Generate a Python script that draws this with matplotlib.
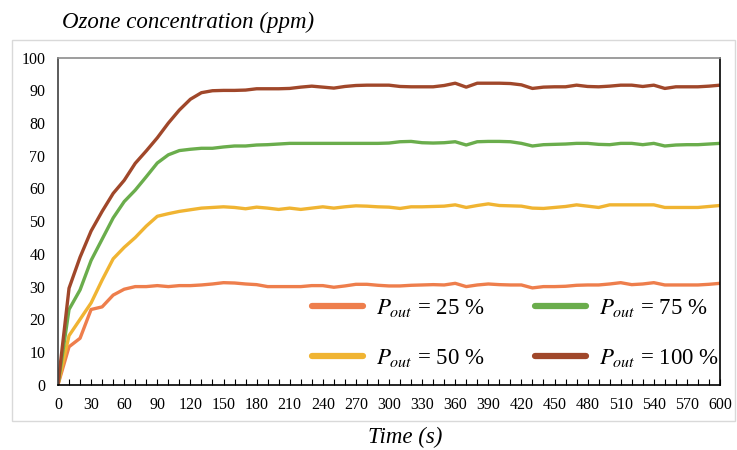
import matplotlib
matplotlib.use('Agg')
import matplotlib.pyplot as plt
from matplotlib.patches import Rectangle
from matplotlib.ticker import MultipleLocator

plt.rcParams['font.family'] = ['Liberation Serif', 'DejaVu Serif']
plt.rcParams['mathtext.fontset'] = 'stix'

time_s = list(range(0, 610, 10))

# ozone concentration (ppm) for each output power
p25 = [0, 11.6, 14.2, 23.0, 23.8, 27.4, 29.2, 30.0, 30.0, 30.3, 30.0, 30.3, 30.3, 30.5, 30.8,
       31.2, 31.1, 30.8, 30.6, 30.0, 30.0, 30.0, 30.0, 30.3, 30.3, 29.8, 30.2, 30.7, 30.7, 30.4,
       30.2, 30.2, 30.4, 30.5, 30.6, 30.5, 31.0, 30.0, 30.5, 30.8, 30.6, 30.5, 30.5, 29.6, 30.0,
       30.0, 30.1, 30.4, 30.5, 30.5, 30.8, 31.2, 30.6, 30.8, 31.2, 30.5, 30.5, 30.5, 30.5, 30.7,
       31.0]
p50 = [0, 15.0, 20.0, 25.0, 32.0, 38.5, 42.0, 45.0, 48.5, 51.5, 52.3, 53.0, 53.5, 54.0, 54.2,
       54.4, 54.2, 53.8, 54.3, 54.0, 53.6, 54.0, 53.6, 54.0, 54.4, 54.0, 54.4, 54.7, 54.6, 54.4,
       54.3, 53.9, 54.4, 54.4, 54.5, 54.6, 55.0, 54.2, 54.8, 55.3, 54.8, 54.7, 54.6, 54.0, 53.9,
       54.2, 54.5, 55.0, 54.6, 54.2, 55.0, 55.0, 55.0, 55.0, 55.0, 54.2, 54.2, 54.2, 54.2, 54.5,
       54.8]
p75 = [0, 23.0, 29.0, 38.0, 44.5, 51.0, 56.0, 59.5, 63.6, 67.8, 70.3, 71.6, 72.0, 72.3, 72.3,
       72.7, 73.0, 73.0, 73.3, 73.4, 73.6, 73.8, 73.8, 73.8, 73.8, 73.8, 73.8, 73.8, 73.8, 73.8,
       73.9, 74.3, 74.4, 74.0, 73.9, 74.0, 74.3, 73.3, 74.3, 74.4, 74.4, 74.3, 73.8, 73.0, 73.4,
       73.5, 73.6, 73.8, 73.8, 73.5, 73.4, 73.8, 73.8, 73.4, 73.8, 73.0, 73.3, 73.4, 73.4, 73.6,
       73.8]
p100 = [0, 29.5, 39.0, 47.0, 53.0, 58.5, 62.5, 67.7, 71.5, 75.5, 80.0, 84.0, 87.3, 89.3, 89.9,
        90.0, 90.0, 90.1, 90.5, 90.5, 90.5, 90.6, 91.0, 91.3, 91.0, 90.7, 91.2, 91.5, 91.6, 91.6,
        91.6, 91.2, 91.1, 91.1, 91.1, 91.5, 92.2, 91.0, 92.2, 92.2, 92.2, 92.1, 91.7, 90.6, 91.0,
        91.1, 91.1, 91.6, 91.2, 91.1, 91.3, 91.6, 91.6, 91.2, 91.6, 90.6, 91.1, 91.1, 91.1, 91.3,
        91.6]

series = [p25, p50, p75, p100]
labels = [r'$P_{out}$ = 25 %', r'$P_{out}$ = 50 %', r'$P_{out}$ = 75 %', r'$P_{out}$ = 100 %']
colors = ['#EE7E4C', '#F0B432', '#6AAD4C', '#A0472A']

fig = plt.figure(figsize=(7.37, 4.5), dpi=100)

# light frame round the chart area
fig.patches.append(Rectangle((12 / 737, 1 - 421 / 450), 723 / 737, 381 / 450,
                             transform=fig.transFigure, fill=False,
                             edgecolor='#d9d9d9', linewidth=1.0))

ax = fig.add_axes([58 / 737, 1 - 384.7 / 450, 662 / 737, 327 / 450])

for vals, lab, col in zip(series, labels, colors):
    ax.plot(time_s, vals, color=col, linewidth=2.4, label=lab, solid_capstyle='round')

ax.set_xlim(0, 600)
ax.set_ylim(0, 100)
ax.xaxis.set_major_locator(MultipleLocator(30))
ax.xaxis.set_minor_locator(MultipleLocator(10))
ax.yaxis.set_major_locator(MultipleLocator(10))
ax.tick_params(axis='x', which='both', direction='in', length=4, width=0.8,
               labelsize=11.5, pad=9)
ax.tick_params(axis='y', length=0, labelsize=11.5, pad=9)

ax.spines['top'].set_color('#8c8c8c')
ax.spines['left'].set_color('#404040')
ax.spines['right'].set_color('black')
ax.spines['bottom'].set_color('black')
for s in ax.spines.values():
    s.set_linewidth(1.2)

leg = ax.legend(ncol=2, loc='upper left', bbox_to_anchor=(0.37, 0.295),
                frameon=False, fontsize=16.5, handlelength=2.2, handletextpad=0.6,
                columnspacing=2.2, labelspacing=1.2, borderaxespad=0)
for line in leg.get_lines():
    line.set_linewidth(4.5)

fig.text(62 / 737, 1 - 22 / 450, 'Ozone concentration (ppm)', fontsize=16.5,
         style='italic', ha='left', va='center')
fig.text(405 / 737, 1 - 437 / 450, 'Time (s)', fontsize=16.5,
         style='italic', ha='center', va='center')

fig.savefig('out.png', dpi=100)
